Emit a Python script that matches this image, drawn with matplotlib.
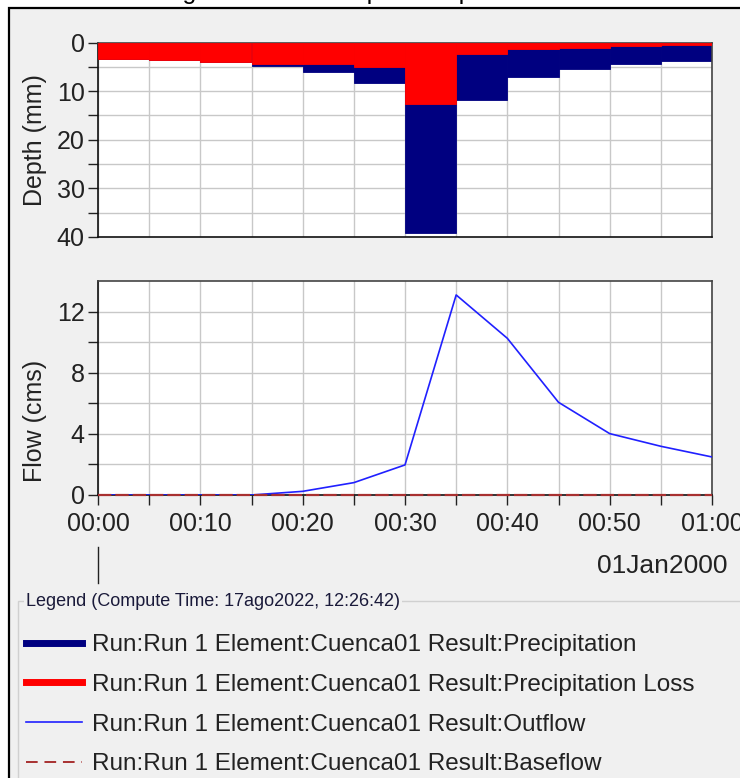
import matplotlib
matplotlib.use("Agg")
import matplotlib.pyplot as plt
from matplotlib.patches import Rectangle
from matplotlib.lines import Line2D
from matplotlib.ticker import MultipleLocator, FixedLocator, NullFormatter
import matplotlib.transforms as mtransforms

plt.rcParams['font.family'] = ['Liberation Sans', 'DejaVu Sans']

# ---- data (minutes after 00:00, 01Jan2000) ----
interval_start = [0, 5, 10, 15, 20, 25, 30, 35, 40, 45, 50, 55]
precip_total = [3.3, 3.7, 4.05, 4.8, 6.0, 8.4, 39.1, 11.9, 7.1, 5.4, 4.4, 3.8]      # mm
precip_loss = [3.3, 3.7, 4.05, 4.5, 4.4, 5.1, 12.6, 2.35, 1.38, 1.03, 0.7, 0.55]    # mm

flow_time = [0, 5, 10, 15, 20, 25, 30, 35, 40, 45, 50, 55, 60]
outflow = [0.0, 0.0, 0.0, 0.0, 0.24, 0.81, 1.97, 13.1, 10.26, 6.07, 4.02, 3.19, 2.49]  # cms
baseflow = [0.0] * 13

time_tick_pos = [0, 10, 20, 30, 40, 50, 60]
time_tick_labels = ["00:00", "00:10", "00:20", "00:30", "00:40", "00:50", "01:00"]
date_label = "01Jan2000"

legend_labels = [
    "Run:Run 1 Element:Cuenca01 Result:Precipitation",
    "Run:Run 1 Element:Cuenca01 Result:Precipitation Loss",
    "Run:Run 1 Element:Cuenca01 Result:Outflow",
    "Run:Run 1 Element:Cuenca01 Result:Baseflow",
]
legend_title = "Legend (Compute Time: 17ago2022, 12:26:42)"
chart_title = "Hidrograma de salida para un periodo de retorno de 2 años"

# ---- styling ----
W, H = 740, 778
NAVY = "#000080"
RED = "#ff0000"
BLUE = "#2020ff"
BASE = "#a83030"
PANEL = "#f0f0f0"
GRID = "#c8c8c8"
TXT = "#222222"
FS = 18

fig = plt.figure(figsize=(W / 100, H / 100), dpi=100, facecolor="white")

# window panel with dark border on top/left
panel = Rectangle((9 / W, -0.2), 1.5, 1.2 - 7.5 / H, transform=fig.transFigure,
                  facecolor=PANEL, edgecolor="black", lw=1.6, zorder=-10)
fig.patches.append(panel)

# caption above the panel (only the descenders fall inside the canvas)
fig.text(123 / W, 1 + 0.5 / H, chart_title, fontsize=18, ha="left", va="baseline",
         color="black")


def style_axis(ax):
    ax.set_facecolor("white")
    for side in ("left", "bottom"):
        ax.spines[side].set_color("#111111")
        ax.spines[side].set_linewidth(1.2)
    for side in ("top", "right"):
        ax.spines[side].set_color("#444444")
        ax.spines[side].set_linewidth(1.2)
    ax.grid(True, which="both", color=GRID, lw=1.0, zorder=0)
    ax.set_axisbelow(True)
    ax.tick_params(which="both", direction="out", length=7, width=1.0, color="#222222",
                   labelsize=FS, labelcolor=TXT)
    ax.tick_params(axis="y", which="both", pad=2.5)


# ---- precipitation (depth) panel ----
ax1 = fig.add_axes([98 / W, 1 - 237 / H, 614 / W, 194.5 / H])
style_axis(ax1)
ax1.bar(interval_start, precip_total, width=5, align="edge", color=NAVY,
        edgecolor=NAVY, lw=0.6, zorder=2)
ax1.bar(interval_start, precip_loss, width=5, align="edge", color=RED,
        edgecolor=RED, lw=0.6, zorder=3)
ax1.set_xlim(0, 60)
ax1.set_ylim(40, 0)
ax1.yaxis.set_major_locator(MultipleLocator(10))
ax1.yaxis.set_minor_locator(MultipleLocator(5))
ax1.xaxis.set_major_locator(MultipleLocator(5))
ax1.xaxis.set_major_formatter(NullFormatter())
ax1.tick_params(axis="x", which="both", length=0)

# ---- flow panel ----
ax2 = fig.add_axes([98 / W, 1 - 495 / H, 614 / W, 213.8 / H])
style_axis(ax2)
ax2.plot(flow_time, outflow, color=BLUE, lw=1.2, zorder=3)
ax2.plot(flow_time, baseflow, color=BASE, lw=1.6, ls=(0, (6, 1.8)), zorder=4, clip_on=False)
ax2.set_xlim(0, 60)
ax2.set_ylim(0, 14)
ax2.yaxis.set_major_locator(FixedLocator([0, 4, 8, 12]))
ax2.yaxis.set_minor_locator(FixedLocator([2, 6, 10]))
ax2.xaxis.set_major_locator(FixedLocator(time_tick_pos))
ax2.xaxis.set_minor_locator(MultipleLocator(5))
ax2.set_xticklabels(time_tick_labels)
ax2.tick_params(axis="x", which="both", pad=5)

# day marker below the first tick
trans = mtransforms.blended_transform_factory(ax2.transData, ax2.transAxes)
ax2.plot([flow_time[0], flow_time[0]], [-0.245, -0.41], transform=trans, color=TXT,
         lw=1.0, clip_on=False)
fig.text(727 / W, 1 - 566 / H, date_label, fontsize=19, ha="right", va="center", color=TXT)

# axis titles
fig.text(35 / W, 1 - 140 / H, "Depth (mm)", rotation=90, fontsize=FS, ha="center",
         va="center", color=TXT)
fig.text(35 / W, 1 - 421 / H, "Flow (cms)", rotation=90, fontsize=FS, ha="center",
         va="center", color=TXT)

# ---- legend group box ----
box = Rectangle((18 / W, -0.2), 1.5, 0.2 + (1 - 601 / H), transform=fig.transFigure,
                facecolor="none", edgecolor="#d0d0d0", lw=1.0, zorder=-5)
fig.patches.append(box)
fig.text(26 / W, 1 - 602 / H, legend_title, fontsize=13, ha="left", va="center",
         color="#1a1a3a", bbox=dict(facecolor=PANEL, edgecolor="none", pad=1.5))

handles = [
    Line2D([], [], color=NAVY, lw=5),
    Line2D([], [], color=RED, lw=5),
    Line2D([], [], color=BLUE, lw=1.2),
    Line2D([], [], color=BASE, lw=1.4, ls=(0, (6, 3.5))),
]
fig.legend(handles, legend_labels, loc="upper left",
           bbox_to_anchor=(26 / W, 1 - 634 / H), frameon=False, fontsize=17.5,
           handlelength=2.3, handletextpad=0.42, labelspacing=0.73, borderpad=0,
           borderaxespad=0, labelcolor=TXT)

fig.savefig("out.png", dpi=100, facecolor=fig.get_facecolor())
